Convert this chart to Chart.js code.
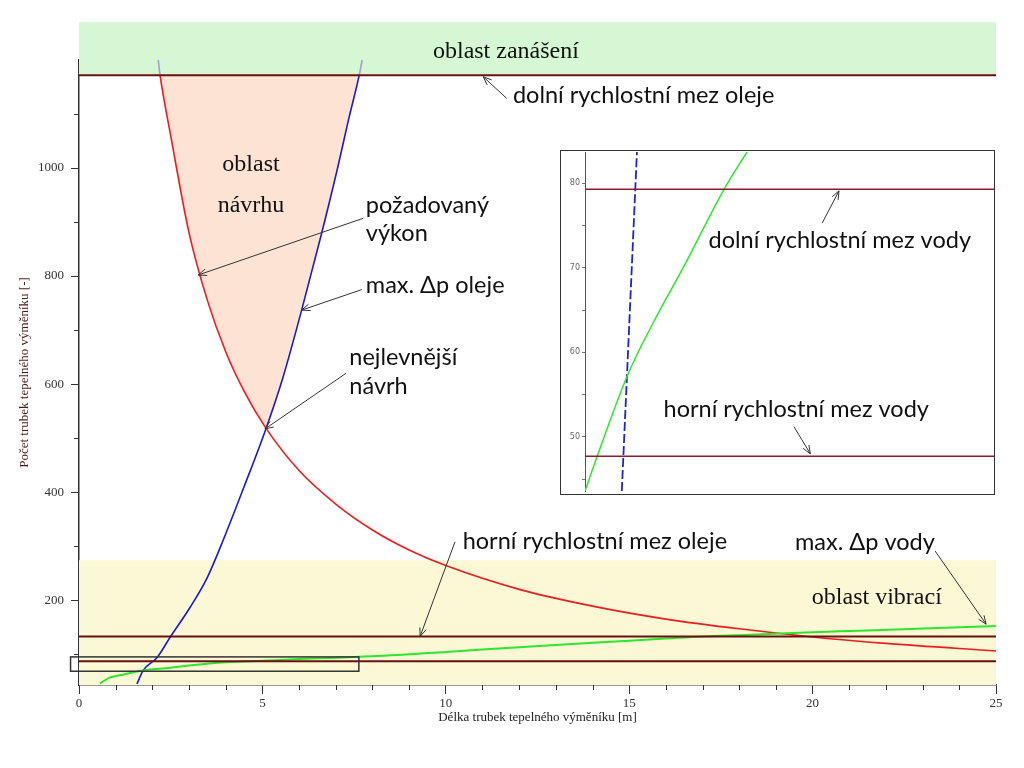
<!DOCTYPE html>
<html>
<head>
<meta charset="utf-8">
<script src="https://cdn.jsdelivr.net/npm/chart.js@4.4.0/dist/chart.umd.min.js"></script>
<style>
  html, body { margin: 0; padding: 0; background: #fff; }
  #wrap { position: relative; width: 1024px; height: 768px; overflow: hidden; }
  #mainChart { position: absolute; left: 0; top: 0; }
  #insetBox { position: absolute; left: 560px; top: 150px; width: 433px; height: 343px; border: 1px solid #333; background: #fff; }
  #insetChart { display: block; }
</style>
</head>
<body>
<div id="wrap">
  <canvas id="mainChart" width="1024" height="768"></canvas>
  <div id="insetBox"><canvas id="insetChart" width="433" height="343"></canvas></div>
</div>
<script>
// osa x / y hlavniho grafu
const xMajorTicks = [0, 5, 10, 15, 20, 25];
const xMinorTicks = [1, 2, 3, 4, 6, 7, 8, 9, 11, 12, 13, 14, 16, 17, 18, 19, 21, 22, 23, 24];
const yMajorTicks = [200, 400, 600, 800, 1000];
const yMinorTicks = [100, 300, 500, 700, 900, 1100];

// pozadovany vykon (cervena)
const vykonX = [2.16, 2.21, 2.5, 3, 3.5, 4, 4.5, 5.1, 6, 7, 8, 9, 10, 12, 14, 16, 18, 20, 22, 25];
const vykonY = [1200, 1172, 1060, 880, 755, 660, 587, 518, 440, 378, 330, 293, 264, 220, 189, 165, 147, 132, 120, 106];

// max. dp oleje (modra)
const olejX = [1.58, 1.75, 2.13, 2.48, 3.03, 3.49, 3.93, 4.5, 5.1, 5.55, 6.07, 6.6, 7.05, 7.35, 7.64, 7.72];
const olejY = [45, 70, 94, 131, 187, 241, 311, 410, 518, 610, 737, 875, 1000, 1090, 1172, 1200];

// max. dp vody (zelena)
const vodaX = [0.57, 0.85, 1.2, 1.66, 2.5, 3, 4, 5, 6, 8, 10, 12, 14, 16, 17, 18.3, 19.3, 21.5, 25];
const vodaY = [46, 57, 62, 69, 75, 79, 85, 88, 91, 96, 104, 113, 121, 129, 133, 136, 139, 144, 152];

// rychlostni meze (vodorovne cary)
const limitX = [0, 25];
const limitsMain = [1172, 133, 87];
const zanaseniTop = 1270;
const vibraceTop = 274;
const detailBox = { x0: -0.23, x1: 7.63, y0: 68.5, y1: 95 };

// detail (vlozeny graf)
const insetYTicks = [45, 50, 55, 60, 65, 70, 75, 80];
const insetBlueX = [9.0, 12.7];
const insetBlueY = [43.6, 83.7];
const insetGreenX = [0, 2.9, 10.4, 17, 24.1, 33.9, 39.6];
const insetGreenY = [43.6, 47.6, 57.3, 63.8, 70.1, 79.2, 83.7];
const insetLimitX = [0, 100];
const insetLimits = [79.3, 47.7];

const SANS = '23.5px Lato, "Open Sans", sans-serif';
const SERIF = '24px "Liberation Serif", serif';

const mainNotes = [
  { lines: ['oblast zanášení'], x: 9.65, y: 1203, font: SERIF },
  { lines: ['dolní rychlostní mez oleje'], x: 11.83, y: 1120, font: SANS, arrow: [11.66, 1129, 11.02, 1169] },
  { lines: ['oblast', 'návrhu'], x: 4.69, y: 995, lh: 41, font: SERIF, align: 'center' },
  { lines: ['požadovaný', 'výkon'], x: 7.82, y: 917, lh: 28, font: SANS, arrow: [7.75, 907, 3.25, 802] },
  { lines: ['max. Δp oleje'], x: 7.82, y: 768, font: SANS, arrow: [7.71, 775, 6.07, 737] },
  { lines: ['nejlevnější', 'návrh'], x: 7.37, y: 635, lh: 29, font: SANS, arrow: [7.28, 620, 5.07, 517] },
  { lines: ['horní rychlostní mez oleje'], x: 10.46, y: 294, font: SANS, arrow: [10.25, 308, 9.3, 133] },
  { lines: ['max. Δp vody'], x: 19.52, y: 292.6, font: SANS, arrow: [23.34, 291, 24.73, 155.6] },
  { lines: ['oblast vibrací'], x: 19.98, y: 192.6, font: SERIF }
];

const insetNotes = [
  { lines: ['dolní rychlostní mez vody'], x: 30.2, y: 72.4, font: SANS, arrow: [58.0, 75.3, 62.1, 79.1] },
  { lines: ['horní rychlostní mez vody'], x: 19.2, y: 52.4, font: SANS, arrow: [51.1, 51.2, 55.1, 48.0] }
];

function pts(xs, ys) {
  return xs.map((x, i) => ({ x: x, y: ys[i] }));
}

function drawArrow(ctx, x1, y1, x2, y2) {
  const a = Math.atan2(y2 - y1, x2 - x1);
  const len = 9, spread = 0.38;
  ctx.beginPath();
  ctx.moveTo(x1, y1);
  ctx.lineTo(x2, y2);
  ctx.moveTo(x2 - len * Math.cos(a - spread), y2 - len * Math.sin(a - spread));
  ctx.lineTo(x2, y2);
  ctx.lineTo(x2 - len * Math.cos(a + spread), y2 - len * Math.sin(a + spread));
  ctx.stroke();
}

function drawNotes(chart, notes) {
  const { ctx, scales: { x, y } } = chart;
  ctx.save();
  ctx.fillStyle = '#111';
  ctx.strokeStyle = '#333';
  ctx.lineWidth = 1;
  ctx.textBaseline = 'alphabetic';
  notes.forEach(n => {
    ctx.font = n.font;
    ctx.textAlign = n.align || 'left';
    const px = x.getPixelForValue(n.x), py = y.getPixelForValue(n.y);
    n.lines.forEach((t, i) => ctx.fillText(t, px, py + i * (n.lh || 0)));
    if (n.arrow) {
      drawArrow(ctx, x.getPixelForValue(n.arrow[0]), y.getPixelForValue(n.arrow[1]),
        x.getPixelForValue(n.arrow[2]), y.getPixelForValue(n.arrow[3]));
    }
  });
  ctx.restore();
}

function drawMinorTicks(chart) {
  const { ctx, scales: { x, y } } = chart;
  ctx.save();
  ctx.strokeStyle = '#333';
  ctx.lineWidth = 1;
  ctx.beginPath();
  xMinorTicks.forEach(v => {
    const px = Math.round(x.getPixelForValue(v)) + 0.5;
    ctx.moveTo(px, x.top);
    ctx.lineTo(px, x.top + 5);
  });
  yMinorTicks.forEach(v => {
    const py = Math.round(y.getPixelForValue(v)) + 0.5;
    ctx.moveTo(y.right - 5, py);
    ctx.lineTo(y.right, py);
  });
  ctx.stroke();
  ctx.restore();
}

const mainDecor = {
  id: 'mainDecor',
  beforeDatasetsDraw(chart) {
    const { ctx, scales: { x, y } } = chart;
    const left = x.getPixelForValue(limitX[0]), right = x.getPixelForValue(limitX[1]);
    ctx.save();
    // oblast zanaseni
    let t = y.getPixelForValue(zanaseniTop), b = y.getPixelForValue(limitsMain[0]);
    ctx.fillStyle = '#d6f7d3';
    ctx.fillRect(left, t, right - left, b - t);
    // oblast vibraci
    t = y.getPixelForValue(vibraceTop); b = y.bottom;
    ctx.fillStyle = '#fbf8d5';
    ctx.fillRect(left, t, right - left, b - t);
    // oblast navrhu mezi cervenou a modrou
    const crossX = 5.1;
    const redPart = pts(vykonX, vykonY).filter(p => p.x <= crossX && p.y <= limitsMain[0]);
    const bluePart = pts(olejX, olejY).filter(p => p.x >= crossX && p.y <= limitsMain[0]);
    ctx.fillStyle = '#fce3d3';
    ctx.beginPath();
    redPart.concat(bluePart).forEach((p, i) => {
      const px = x.getPixelForValue(p.x), py = y.getPixelForValue(p.y);
      if (i === 0) ctx.moveTo(px, py); else ctx.lineTo(px, py);
    });
    ctx.closePath();
    ctx.fill();
    ctx.restore();
  },
  afterDatasetsDraw(chart) {
    const { ctx, scales: { x, y } } = chart;
    drawMinorTicks(chart);
    ctx.save();
    ctx.strokeStyle = '#333';
    ctx.lineWidth = 1.5;
    const x0 = x.getPixelForValue(detailBox.x0), x1 = x.getPixelForValue(detailBox.x1);
    const y0 = y.getPixelForValue(detailBox.y0), y1 = y.getPixelForValue(detailBox.y1);
    ctx.strokeRect(x0, y1, x1 - x0, y0 - y1);
    ctx.restore();
    drawNotes(chart, mainNotes);
  }
};

const lightTop = c => (c.p0.parsed.y > limitsMain[0] || c.p1.parsed.y > limitsMain[0]) ? '#a79bd0' : undefined;

const limitDatasets = limitsMain.map(v => ({
  data: pts(limitX, limitX.map(() => v)),
  borderColor: '#6b1010',
  borderWidth: 2,
  pointRadius: 0
}));

new Chart(document.getElementById('mainChart'), {
  type: 'line',
  data: {
    datasets: limitDatasets.concat([
      { data: pts(vodaX, vodaY), borderColor: '#2ee62e', borderWidth: 2, pointRadius: 0, cubicInterpolationMode: 'monotone' },
      { data: pts(vykonX, vykonY), borderColor: '#ee1c1c', borderWidth: 1.6, pointRadius: 0, cubicInterpolationMode: 'monotone', segment: { borderColor: lightTop } },
      { data: pts(olejX, olejY), borderColor: '#1a1ad0', borderWidth: 1.6, pointRadius: 0, cubicInterpolationMode: 'monotone', segment: { borderColor: lightTop } }
    ])
  },
  options: {
    responsive: false,
    animation: false,
    devicePixelRatio: 1,
    layout: { padding: { top: 60, right: 28, left: 0, bottom: 0 } },
    plugins: { legend: { display: false }, tooltip: { enabled: false } },
    scales: {
      x: {
        type: 'linear', min: 0, max: 25,
        afterFit: s => { s.height = 83; },
        afterBuildTicks: s => { s.ticks = xMajorTicks.map(v => ({ value: v })); },
        ticks: { color: '#333', font: { family: 'Liberation Serif', size: 13 }, padding: 2, maxRotation: 0, autoSkip: false, callback: v => String(v) },
        grid: { drawOnChartArea: false, tickLength: 9, color: '#333' },
        border: { color: '#333', width: 1.5 },
        title: { display: true, text: 'Délka trubek tepelného výměníku [m]', color: '#222', font: { family: 'Liberation Serif', size: 13 }, padding: { top: 0, bottom: 43 } }
      },
      y: {
        type: 'linear', min: 43, max: 1200,
        afterFit: s => { s.width = 79; },
        afterBuildTicks: s => { s.ticks = yMajorTicks.map(v => ({ value: v })); },
        ticks: { color: '#333', font: { family: 'Liberation Serif', size: 13 }, padding: 7, callback: v => String(v) },
        grid: { drawOnChartArea: false, tickLength: 8, color: '#333' },
        border: { color: '#333', width: 1.5 },
        title: { display: true, text: 'Počet trubek tepelného výměníku [-]', color: '#4b1b1b', font: { family: 'Liberation Serif', size: 13 }, padding: { top: 17, bottom: 0 } }
      }
    }
  },
  plugins: [mainDecor]
});

const insetDecor = {
  id: 'insetDecor',
  afterDatasetsDraw(chart) { drawNotes(chart, insetNotes); }
};

new Chart(document.getElementById('insetChart'), {
  type: 'line',
  data: {
    datasets: insetLimits.map(v => ({
      data: pts(insetLimitX, insetLimitX.map(() => v)),
      borderColor: '#8e1b2e', borderWidth: 1.5, pointRadius: 0
    })).concat([
      { data: pts(insetGreenX, insetGreenY), borderColor: '#2ee62e', borderWidth: 1.5, pointRadius: 0, cubicInterpolationMode: 'monotone' },
      { data: pts(insetBlueX, insetBlueY), borderColor: '#2323cc', borderWidth: 1.8, borderDash: [9, 3], pointRadius: 0 }
    ])
  },
  options: {
    responsive: false,
    animation: false,
    devicePixelRatio: 1,
    layout: { padding: { top: 1, right: 0, left: 0, bottom: 3 } },
    plugins: { legend: { display: false }, tooltip: { enabled: false } },
    scales: {
      x: { type: 'linear', min: 0, max: 100, display: false },
      y: {
        type: 'linear', min: 43.6, max: 83.7,
        afterFit: s => { s.width = 24; s.paddingTop = 0; s.paddingBottom = 0; },
        afterBuildTicks: s => { s.ticks = insetYTicks.map(v => ({ value: v })); },
        ticks: { color: '#666', font: { family: 'DejaVu Sans', size: 8 }, padding: 2, callback: v => (v % 10 === 0 ? String(v) : '') },
        grid: { drawOnChartArea: false, tickLength: 3, color: '#777' },
        border: { color: '#555', width: 1 }
      }
    }
  },
  plugins: [insetDecor]
});
</script>
</body>
</html>
